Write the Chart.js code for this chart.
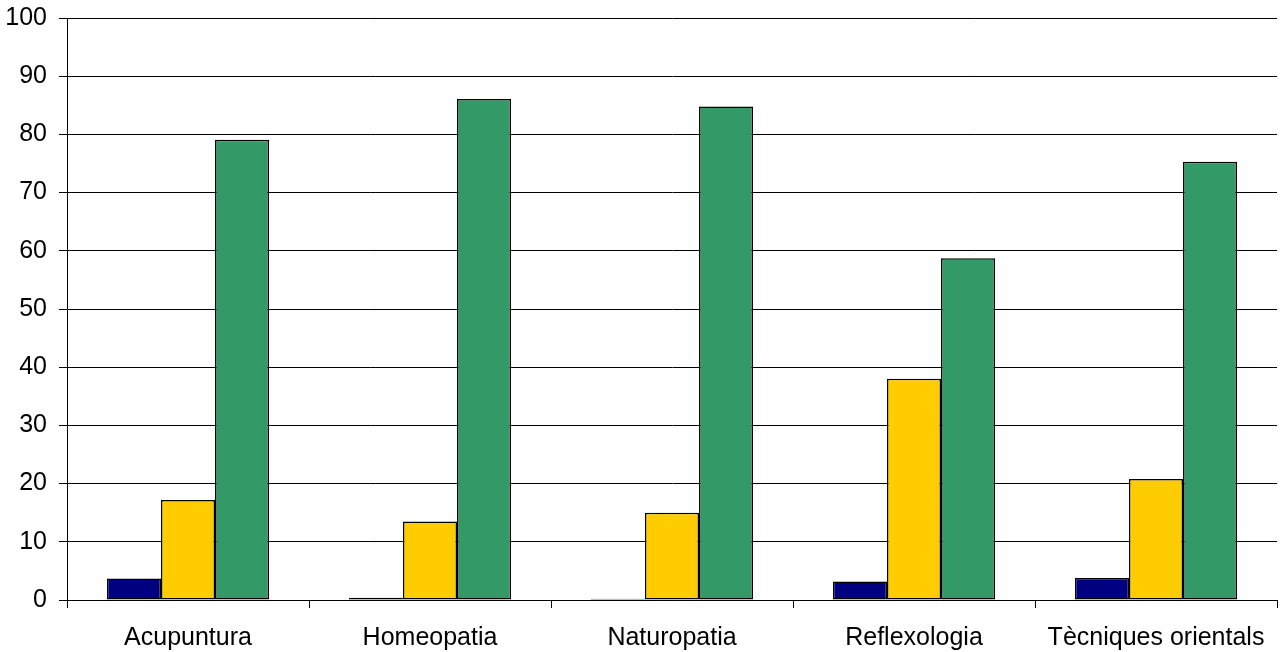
<!DOCTYPE html>
<html>
<head>
<meta charset="utf-8">
<script src="https://cdn.jsdelivr.net/npm/chart.js@4"></script>
<style>
  html, body { margin: 0; padding: 0; background: #fff; }
  #wrap { width: 1283px; height: 652px; }
</style>
</head>
<body>
<div id="wrap"><canvas id="c" width="1283" height="652"></canvas></div>
<script>
const categories = ["Acupuntura", "Homeopatia", "Naturopatia", "Reflexologia", "Tècniques orientals"];
const seriesBlue = [3.7, 0.4, 0.2, 3.2, 3.8];
const seriesYellow = [17.2, 13.5, 15.0, 38.0, 20.8];
const seriesGreen = [79.1, 86.1, 84.8, 58.7, 75.3];
const yTicks = [0, 10, 20, 30, 40, 50, 60, 70, 80, 90, 100];

const font = { family: "'Liberation Sans', Arial, sans-serif", size: 25 };

function ds(data, color) {
  return {
    data: data,
    backgroundColor: color,
    borderColor: "#000",
    borderWidth: 1.5,
    borderSkipped: false,
    categoryPercentage: 0.67,
    barPercentage: 1.0
  };
}

new Chart(document.getElementById("c"), {
  type: "bar",
  data: {
    labels: categories,
    datasets: [ds(seriesBlue, "#000080"), ds(seriesYellow, "#FFCC00"), ds(seriesGreen, "#339966")]
  },
  options: {
    responsive: false,
    animation: false,
    layout: { padding: { top: 0, right: 6, bottom: 0, left: 0 } },
    plugins: { legend: { display: false }, tooltip: { enabled: false } },
    scales: {
      x: {
        offset: true,
        grid: { offset: true, drawOnChartArea: false, drawTicks: true, tickLength: 8, color: "#000", lineWidth: 1 },
        border: { display: true, color: "#000", width: 1 },
        ticks: { color: "#000", font: font, padding: 15, maxRotation: 0, autoSkip: false },
        afterFit: (s) => { s.height = 52; }
      },
      y: {
        min: 0,
        max: 100,
        afterBuildTicks: (axis) => { axis.ticks = yTicks.map(v => ({ value: v })); },
        grid: { color: "#000", lineWidth: 1, tickLength: 8, drawTicks: true },
        border: { display: true, color: "#000", width: 1 },
        ticks: { color: "#000", font: font, padding: 12 },
        afterFit: (s) => { s.width = 67; s.paddingTop = 18; s.paddingBottom = 0; }
      }
    }
  }
});
</script>
</body>
</html>
